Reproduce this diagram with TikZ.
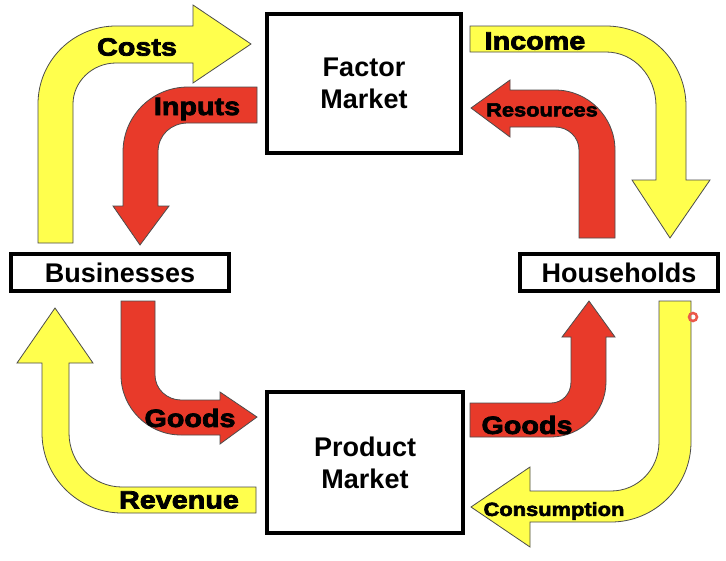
\documentclass[tikz,border=0pt]{standalone}
\usepackage{fontspec}
\setmainfont{Liberation Sans}
\newfontfamily\heavyfont{Liberation Sans}[BoldFeatures={FakeBold=3,FakeStretch=1.15}]
\usetikzlibrary{positioning}
\definecolor{cashyellow}{RGB}{255,255,77}
\definecolor{goodsred}{RGB}{232,58,42}
\begin{document}
\begin{tikzpicture}[x=1pt,y=-1pt]
\tikzstyle{market}=[rectangle, draw=black, line width=4pt, fill=white, align=center, font=\bfseries\fontsize{27}{32}\selectfont]
\tikzstyle{money}=[fill=cashyellow, draw=black!70, line width=0.8pt]
\tikzstyle{flow}=[fill=goodsred, draw=black!70, line width=0.8pt]
\tikzstyle{flowlabel}=[inner sep=0pt, font=\heavyfont\bfseries\fontsize{25}{25}\selectfont]
\tikzstyle{smallflowlabel}=[inner sep=0pt, font=\heavyfont\bfseries\fontsize{19}{19}\selectfont]
  \useasboundingbox[fill=white] (0,0) rectangle (726,560);
  % boxes
  \node[market, minimum width=194pt, minimum height=139pt] (factor) at (364,83.5) {Factor\\Market};
  \node[market, minimum width=196pt, minimum height=141pt] (product) at (365,462.5) {Product\\Market};
  \node[market, minimum width=218pt, minimum height=37pt] (business) at (120,272.5) {Businesses};
  \node[market, minimum width=198pt, minimum height=37pt] (household) at (619,272.5) {Households};
  % money flows
  \filldraw[money] (38,243) -- (38,104) .. controls (38,61) and (73,26) .. (116,26) -- (193,26) -- (193,5) -- (251,44)
    -- (193,83) -- (193,63) -- (116,63) .. controls (92,63) and (73,82) .. (73,104) -- (73,243) -- cycle;
  \filldraw[money] (470,26) -- (606,26) .. controls (650,26) and (686,62) .. (686,106) -- (686,180) -- (710,180) -- (670,238)
    -- (632,180) -- (656,180) -- (656,106) .. controls (656,76) and (634,52) .. (606,52) -- (470,52) -- cycle;
  \filldraw[money] (691,301) -- (691,442) .. controls (691,486) and (655,522) .. (611,522) -- (530,522) -- (530,547) -- (471,507)
    -- (530,467) -- (530,491) -- (611,491) .. controls (638,491) and (659,469) .. (659,442) -- (659,301) -- cycle;
  \filldraw[money] (256,513) -- (122,513) .. controls (78,513) and (42,477) .. (42,433) -- (42,363) -- (17,363) -- (55,308)
    -- (93,363) -- (69,363) -- (69,433) .. controls (69,463) and (93,487) .. (122,487) -- (256,487) -- cycle;
  % goods and resources
  \filldraw[flow] (257,87) -- (188,87) .. controls (152,87) and (123,116) .. (123,152) -- (123,206) -- (113,206) -- (140,245)
    -- (169,206) -- (158,206) -- (158,152) .. controls (158,135) and (171,123) .. (188,123) -- (257,123) -- cycle;
  \filldraw[flow] (615,238) -- (615,150) .. controls (615,117) and (588,90) .. (555,90) -- (510,90) -- (510,80) -- (471,108)
    -- (510,137) -- (510,127) -- (555,127) .. controls (568,127) and (579,137) .. (579,150) -- (579,238) -- cycle;
  \filldraw[flow] (121,301) -- (121,375) .. controls (121,408) and (148,435) .. (181,435) -- (220,435) -- (220,444) -- (257,417)
    -- (220,392) -- (220,400) -- (181,400) .. controls (167,400) and (155,389) .. (155,375) -- (155,301) -- cycle;
  \filldraw[flow] (470,437) -- (551,437) .. controls (581,437) and (606,412) .. (606,382) -- (606,337) -- (615,337) -- (589,301)
    -- (562,337) -- (571,337) -- (571,382) .. controls (571,394) and (562,403) .. (551,403) -- (470,403) -- cycle;
  % labels
  \node[flowlabel] (costs) at (137,47) {Costs};
  \node[flowlabel] (inputs) at (197,109) {Inputs};
  \node[flowlabel] (income) at (535,41) {Income};
  \node[smallflowlabel] (resources) at (542,110) {Resources};
  \node[flowlabel] (goodsout) at (190,418) {Goods};
  \node[flowlabel] (revenue) at (179,500) {Revenue};
  \node[flowlabel] (goodsin) at (527,425) {Goods};
  \node[smallflowlabel] (consumption) at (554,511) {Consumption};
  \node[circle, draw=goodsred!85, line width=2.5pt, minimum size=8pt, inner sep=0pt] (cursor) at (693,317) {};
\end{tikzpicture}
\end{document}
